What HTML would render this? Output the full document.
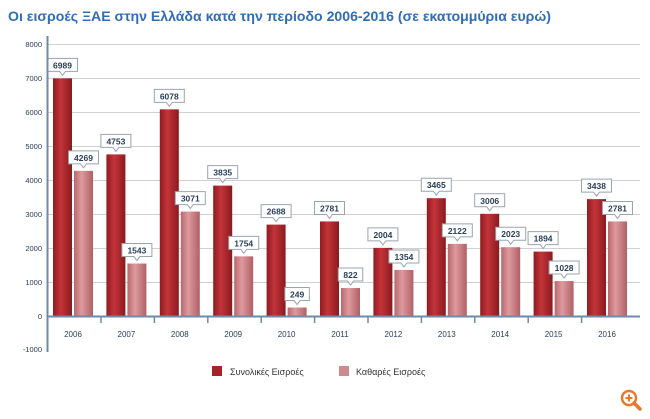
<!DOCTYPE html>
<html><head><meta charset="utf-8"><style>
body{margin:0;width:650px;height:419px;background:#fff;overflow:hidden}
svg{display:block}
text{font-family:"Liberation Sans","DejaVu Sans",sans-serif}
</style></head><body>
<svg width="650" height="419" viewBox="0 0 650 419">
<defs>
<linearGradient id="d" x1="0" x2="1"><stop offset="0" stop-color="#8e1c1f"/><stop offset="0.4" stop-color="#c4343a"/><stop offset="1" stop-color="#8a1a1d"/></linearGradient>
<linearGradient id="l" x1="0" x2="1"><stop offset="0" stop-color="#b8686c"/><stop offset="0.4" stop-color="#de9a9e"/><stop offset="1" stop-color="#b06064"/></linearGradient>
</defs>
<text x="8" y="21" font-size="14" font-weight="bold" fill="#2f6db5" textLength="543" lengthAdjust="spacingAndGlyphs">Οι εισροές ΞΑΕ στην Ελλάδα κατά την περίοδο 2006-2016 (σε εκατομμύρια ευρώ)</text>
<g id="grid" stroke="#d0d0d0" stroke-width="1">
<line x1="47" x2="640" y1="44.5" y2="44.5"/><line x1="47" x2="640" y1="78.5" y2="78.5"/>
<line x1="47" x2="640" y1="112.5" y2="112.5"/><line x1="47" x2="640" y1="146.5" y2="146.5"/>
<line x1="47" x2="640" y1="180.5" y2="180.5"/><line x1="47" x2="640" y1="214.5" y2="214.5"/>
<line x1="47" x2="640" y1="248.5" y2="248.5"/><line x1="47" x2="640" y1="282.5" y2="282.5"/>
</g>
<g font-size="7.5" fill="#2a3f5a" text-anchor="end">
<text x="42" y="47">8000</text><text x="42" y="81">7000</text><text x="42" y="115">6000</text>
<text x="42" y="149">5000</text><text x="42" y="183">4000</text><text x="42" y="217">3000</text>
<text x="42" y="251">2000</text><text x="42" y="285">1000</text><text x="42" y="319">0</text>
<text x="42" y="352">-1000</text>
</g>
<g id="bars"></g>
<line x1="47.5" y1="36" x2="47.5" y2="352" stroke="#6f8aa8" stroke-width="2"/>
<line x1="47" y1="316.5" x2="640" y2="316.5" stroke="#6f8aa8" stroke-width="2"/>
<g id="ticks" stroke="#6f8aa8" stroke-width="1.5"></g>
<g id="yl" font-size="8" fill="#2a3f5a" text-anchor="middle"></g>
<rect x="212" y="366" width="10" height="10" fill="#a82328"/>
<text x="230" y="375" font-size="9" fill="#333">Συνολικές Εισροές</text>
<rect x="339" y="366" width="10" height="10" fill="#d08a8e"/>
<text x="356" y="375" font-size="9" fill="#333">Καθαρές Εισροές</text>
<circle cx="629" cy="398" r="7" fill="none" stroke="#e8792a" stroke-width="2.5"/>
<line x1="634" y1="403" x2="640" y2="409" stroke="#e8792a" stroke-width="3.5" stroke-linecap="round"/>
<path d="M625.5 398h7M629 394.5v7" stroke="#e8792a" stroke-width="2"/>
</svg>
<script>
var T=[6989,4753,6078,3835,2688,2781,2004,3465,3006,1894,3438],N=[4269,1543,3071,1754,249,822,1354,2122,2023,1028,2781];
var ns="http://www.w3.org/2000/svg",b=document.getElementById("bars"),tk=document.getElementById("ticks"),yl=document.getElementById("yl");
function el(p,t,a,tx){var e=document.createElementNS(ns,t);for(var k in a)e.setAttribute(k,a[k]);if(tx!=null)e.textContent=tx;p.appendChild(e);return e;}
function y(v){return 316-v*0.034;}
function lab(cx,v){var top=y(v);var w=String(v).length*5.5+8;var bx=cx-w/2,by=top-20;
el(b,"path",{d:"M"+bx+" "+by+"h"+w+"v13h-"+(w/2-3)+"l-3 4l-3-4h-"+(w/2-3)+"z",fill:"#fff",stroke:"#9aa4ae","stroke-width":"1"});
el(b,"text",{x:cx,y:by+10,"font-size":"8.5","font-weight":"bold",fill:"#2a3f5a","text-anchor":"middle"},v);}
for(var i=0;i<11;i++){var x0=53+53.4*i;
el(b,"rect",{x:x0,y:y(T[i]),width:19,height:316-y(T[i]),fill:"url(#d)"});
el(b,"rect",{x:x0+21,y:y(N[i]),width:19,height:316-y(N[i]),fill:"url(#l)"});
lab(x0+9.5,T[i]);lab(x0+30.5,N[i]);
el(yl,"text",{x:x0+20,y:337},2006+i);
var tx=101+53.4*i;if(i<10)el(tk,"line",{x1:tx,x2:tx,y1:317,y2:323});}
</script>
</body></html>
